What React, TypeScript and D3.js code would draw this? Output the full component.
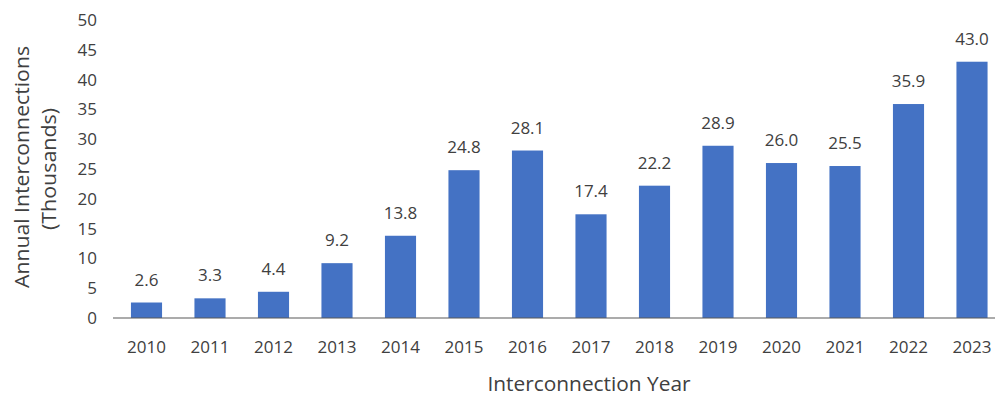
import React from "react";
import * as d3 from "d3";

const years = ["2010","2011","2012","2013","2014","2015","2016","2017","2018","2019","2020","2021","2022","2023"];
const values = [2.6, 3.3, 4.4, 9.2, 13.8, 24.8, 28.1, 17.4, 22.2, 28.9, 26.0, 25.5, 35.9, 43.0];
const yTicks = [0, 5, 10, 15, 20, 25, 30, 35, 40, 45, 50];

const W = 995, H = 396;
const FONT = "'Open Sans', 'Noto Sans', sans-serif";
const TEXT = "#404040";

export default function App() {
  const x = d3.scaleBand<string>().domain(years).range([114.75, 1003.75]).paddingInner(0.51).paddingOuter(0.255);
  const y = d3.scaleLinear().domain([0, 50]).range([318, 20]);
  return (
    <svg width={W} height={H} style={{ position: "absolute", left: 0, top: 0, background: "#fff" }} fontFamily={FONT}>
      {values.map((v, i) => (
        <g key={years[i]}>
          <rect x={x(years[i])} y={y(v)} width={x.bandwidth()} height={y(0) - y(v)} fill="#4472C4" />
          <text x={(x(years[i]) as number) + x.bandwidth() / 2} y={y(v) - 17} textAnchor="middle" fontSize={17} fill={TEXT}>
            {v.toFixed(1)}
          </text>
          <text x={(x(years[i]) as number) + x.bandwidth() / 2} y={353} textAnchor="middle" fontSize={17} fill={TEXT}>
            {years[i]}
          </text>
        </g>
      ))}
      <line x1={113} x2={W} y1={y(0)} y2={y(0)} stroke="#595959" strokeWidth={1.2} />
      {yTicks.map(t => (
        <text key={t} x={97} y={y(t) + 6} textAnchor="end" fontSize={17} fill={TEXT}>{t}</text>
      ))}
      <text transform="translate(29,167) rotate(-90)" textAnchor="middle" fontSize={20} fill={TEXT} textLength={242} lengthAdjust="spacingAndGlyphs">Annual Interconnections</text>
      <text transform="translate(56,169) rotate(-90)" textAnchor="middle" fontSize={20} fill={TEXT} textLength={122} lengthAdjust="spacingAndGlyphs">(Thousands)</text>
      <text x={589} y={391} textAnchor="middle" fontSize={20} fill={TEXT} textLength={203} lengthAdjust="spacingAndGlyphs">Interconnection Year</text>
    </svg>
  );
}
